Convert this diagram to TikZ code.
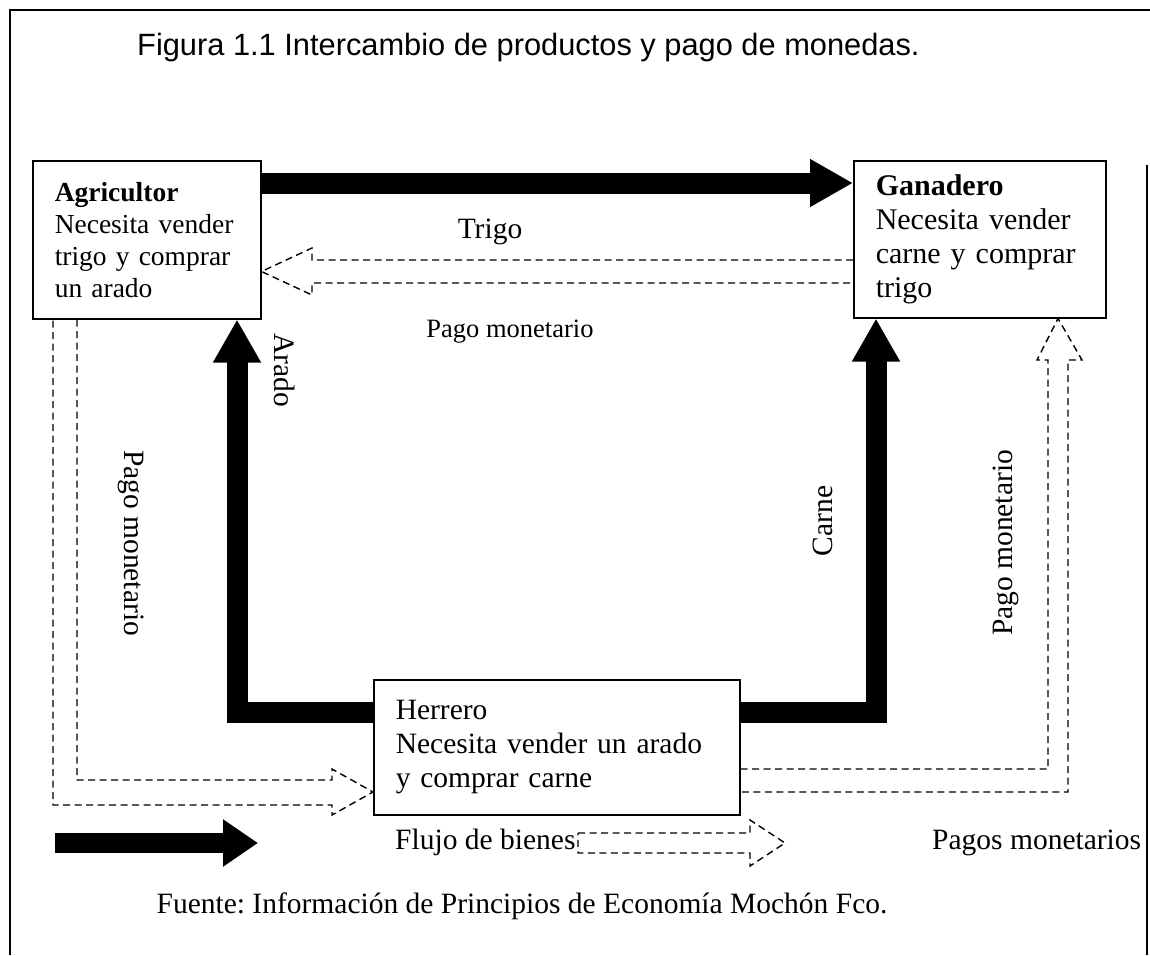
\documentclass[tikz,border=0pt]{standalone}
\usepackage{fontspec}
\setmainfont{Liberation Serif}
\newfontfamily\titlefont{Liberation Sans}
\usetikzlibrary{arrows.meta,calc}
\frenchspacing
\begin{document}
\begin{tikzpicture}[x=1pt,y=-1pt,
  every node/.style={font=\fontsize{29.5}{34}\selectfont},
  box/.style={draw, line width=1.5pt, fill=white, anchor=north west, inner xsep=22pt, inner ysep=0pt, align=left},
  lbl/.style={inner sep=0pt},
  goods/.style={line width=21pt, line join=miter, -{Triangle[length=43pt,width=45pt]}},
  money/.style={line width=1.4pt, dash pattern=on 7pt off 4.5pt, line join=miter},
  frame/.style={line width=1.5pt}]
\useasboundingbox (0,0) rectangle (1150,955);
% frame
\draw[frame] (10,955) -- (10,10) -- (1150,10);
\draw[frame] (1147,165) -- (1147,955);
% title
\node[lbl, anchor=base west, font=\titlefont\fontsize{30.8}{36}\selectfont] (title) at (137,56) {Figura 1.1 Intercambio de productos y pago de monedas.};
% actors
\node[box, text width=184pt, minimum height=158pt, font=\fontsize{27.5}{32}\selectfont] (agr) at (32,160) {\textbf{Agricultor}\\Necesita vender\\trigo y comprar\\un arado};
\node[box, text width=208pt, minimum height=157pt, font=\fontsize{30}{34}\selectfont] (gan) at (853,160) {\textbf{Ganadero}\\Necesita vender\\carne y comprar\\trigo};
\node[box, text width=322pt, minimum height=135pt] (her) at (373,679) {Herrero\\Necesita vender un arado\\y comprar carne};
% flows of goods
\draw[goods] ($(agr.north east)+(0,23)$) -- ($(gan.north west)+(0,23)$);
\draw[goods] ($(her.north west)+(0,33)$) -| ($(agr.south west)+(205,0)$);
\draw[goods] ($(her.north east)+(0,33)$) -| ($(gan.south west)+(23,0)$);
% monetary payments
\draw[money] ($(gan.north west)+(0,100)$) -- (312,260) -- (312,248) -- ($(agr.north east)+(0,111.5)$) -- (312,295) -- (312,283) -- ($(gan.north west)+(0,123)$);
\draw[money] ($(agr.south west)+(45,0)$) -- (77,780) -- (332,780) -- (332,769) -- ($(her.north west)+(0,113)$) -- (332,815) -- (332,805) -- (53,805) -- ($(agr.south west)+(21,0)$);
\draw[money] ($(her.north east)+(0,90)$) -- (1048,769) -- (1048,360) -- (1037,360) -- ($(gan.south west)+(205,0)$) -- (1082,360) -- (1068,360) -- (1068,792) -- ($(her.north east)+(0,113)$);
% labels
\node[lbl, anchor=base] (trigo) at (490,238) {Trigo};
\node[lbl, anchor=base, font=\fontsize{26.5}{32}\selectfont] (pm1) at (510,337) {Pago monetario};
\node[lbl, rotate=-90] (arado) at (285,370) {Arado};
\node[lbl, rotate=90] (carne) at (823,521) {Carne};
\node[lbl, rotate=-90] (pm2) at (131,543) {Pago monetario};
\node[lbl, rotate=90] (pm3) at (1006,543) {Pago monetario};
% legend
\coordinate (lg1) at (55,843);
\coordinate (lg2) at (258,843);
\draw[line width=20pt, -{Triangle[length=35pt,width=45pt]}] (lg1) -- (lg2);
\node[lbl, anchor=base west] (flujo) at (395,849) {Flujo de bienes};
\draw[money] (578,833) -- (750,833) -- (750,820) -- (785,843) -- (750,866) -- (750,853) -- (578,853) -- cycle;
\node[lbl, anchor=base west] (pagos) at (932,849) {Pagos monetarios};
% source
\node[lbl, anchor=base] (fuente) at (522,913) {Fuente: Información de Principios de Economía Mochón Fco.};
\end{tikzpicture}
\end{document}
